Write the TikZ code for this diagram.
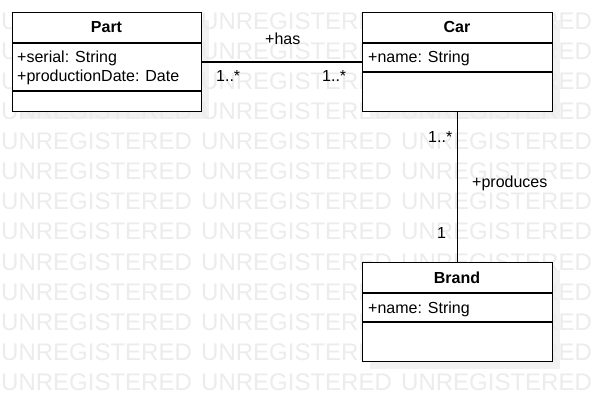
\documentclass[tikz,border=0pt]{standalone}
\usepackage{fontspec}
\setmainfont{Liberation Sans}
\definecolor{wm}{RGB}{236,236,236}
\definecolor{shadowc}{RGB}{242,242,242}
\begin{document}
\begin{tikzpicture}[x=1pt,y=-1pt,
  cls/.style={draw=black, fill=white, line width=1.2pt, minimum width=189pt, minimum height=99pt, anchor=north west, inner sep=0pt},
  ttl/.style={font=\fontsize{16}{19}\selectfont\bfseries, anchor=base, inner sep=0pt},
  attr/.style={font=\fontsize{16}{19}\selectfont, anchor=base west, inner sep=0pt},
  lbl/.style={font=\fontsize{16}{19}\selectfont, anchor=base west, inner sep=0pt},
  wmk/.style={font=\fontsize{24}{28}\selectfont, text=wm, anchor=base west, inner sep=0pt},
  sep/.style={line width=1.2pt},
  conn/.style={line width=1.2pt},
  shad/.style={fill=shadowc}]
\useasboundingbox (0,0) rectangle (601,411);
\fill[white] (0,0) rectangle (601,411);
% shadows
\fill[shad] (20,20) rectangle (209,119);
\fill[shad] (370,20) rectangle (560,119);
\fill[shad] (370,270) rectangle (560,369);
% watermark
\foreach \r in {0,...,12}
  \foreach \c in {0,200,400}
    \node[wmk] (wm-\r-\c) at (\c+1, 30+30*\r) {UNREGISTERED};
% classes
\node[cls] (part) at (12,12) {};
\node[cls, minimum width=190pt] (car) at (362,12) {};
\node[cls, minimum width=190pt] (brand) at (362,262) {};
\draw[sep] (part.west |- 0,43) -- (part.east |- 0,43);
\draw[sep] (part.west |- 0,91) -- (part.east |- 0,91);
\draw[sep] (car.west |- 0,43) -- (car.east |- 0,43);
\draw[sep] (car.west |- 0,72) -- (car.east |- 0,72);
\draw[sep] (brand.west |- 0,293) -- (brand.east |- 0,293);
\draw[sep] (brand.west |- 0,322) -- (brand.east |- 0,322);
\node[ttl] (partT) at (106.5,33) {Part};
\node[attr] (partA1) at (17,63) {+serial: String};
\node[attr] (partA2) at (17,82) {+productionDate: Date};
\node[ttl] (carT) at (457,33) {Car};
\node[attr] (carA1) at (368,63) {+name: String};
\node[ttl] (brandT) at (457,283) {Brand};
\node[attr] (brandA1) at (368,313) {+name: String};
% connectors
\draw[conn] (part) -- (car);
\draw[conn] (car) -- (brand);
\node[lbl] (has) at (265,45) {+has};
\node[lbl] (m1) at (216,82) {1..*};
\node[lbl] (m2) at (322,82) {1..*};
\node[lbl] (m3) at (428,143) {1..*};
\node[lbl] (prod) at (472,188) {+produces};
\node[lbl] (m4) at (437,238) {1};
\end{tikzpicture}
\end{document}
